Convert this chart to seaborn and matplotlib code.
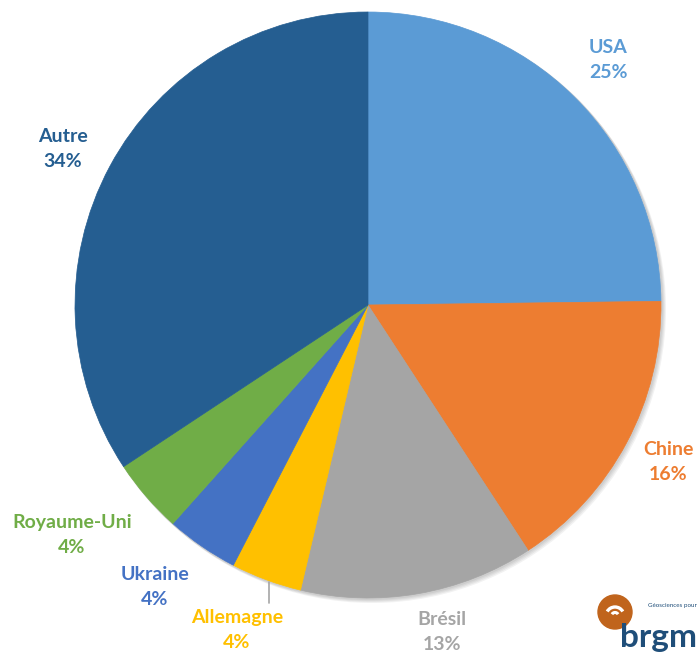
import matplotlib
matplotlib.use("Agg")
import matplotlib.pyplot as plt
from matplotlib.patches import Circle, Arc
import seaborn as sns

sns.set_theme(style="white")
plt.rcParams["font.family"] = ["Lato", "DejaVu Sans"]

# data (shares in %, clockwise from 12 o'clock)
countries = ["USA", "Chine", "Brésil", "Allemagne", "Ukraine", "Royaume-Uni", "Autre"]
shares = [24.8, 16.0, 12.9, 3.9, 4.0, 4.1, 34.3]
colors = ["#5B9BD5", "#ED7D31", "#A5A5A5", "#FFC000", "#4472C4", "#70AD47", "#255E91"]

# label anchor points in pixel coords (x, y from top)
label_pos = [(608, 60), (668, 462), (442, 632), (237, 630), (155, 587), (72, 535), (63, 149)]

W, H = 699, 654
fig = plt.figure(figsize=(W / 100, H / 100), dpi=100)
ax = fig.add_axes([0, 0, 1, 1])

cx, cy, r = 368, H - 305, 293

# soft shadow behind the pie
for i in range(4):
    ax.add_patch(Circle((cx + 1 + i, cy - 1 - i), r + 1, color="black", alpha=0.05, lw=0, zorder=0))

wedges, _ = ax.pie(
    shares,
    colors=colors,
    startangle=90,
    counterclock=False,
    center=(cx, cy),
    radius=r,
    wedgeprops=dict(linewidth=0.5),
    frame=True,
)
for w, c in zip(wedges, colors):
    w.set_edgecolor(c)
    w.set_zorder(1)
ax.set_xlim(0, W)
ax.set_ylim(0, H)
ax.set_aspect("equal")
ax.axis("off")

for name, val, col, (lx, ly) in zip(countries, shares, colors, label_pos):
    ax.text(lx, H - ly, f"{name}\n{round(val)}%", color=col, fontsize=14, fontweight="bold",
            ha="center", va="center", linespacing=1.6)

# leader line for Allemagne
ax.plot([269, 269], [H - 582, H - 603], color="#A5A5A5", lw=1.2)

# brgm logo
ax.add_patch(Circle((615, H - 612), 17, color="#C0641C", zorder=3))
ax.add_patch(Arc((615, H - 616), 18, 18, theta1=30, theta2=150, color="white", lw=2.4, zorder=4))
ax.add_patch(Arc((615, H - 616), 7, 7, theta1=30, theta2=150, color="white", lw=2.2, zorder=4))
ax.text(697, H - 638, "brgm", color="#1F4E79", fontsize=24, fontweight="bold",
        ha="right", va="center")
ax.text(697, H - 605, "Géosciences pour", color="#1F4E79", fontsize=4.5,
        ha="right", va="center")

fig.savefig("out.png", dpi=100)
